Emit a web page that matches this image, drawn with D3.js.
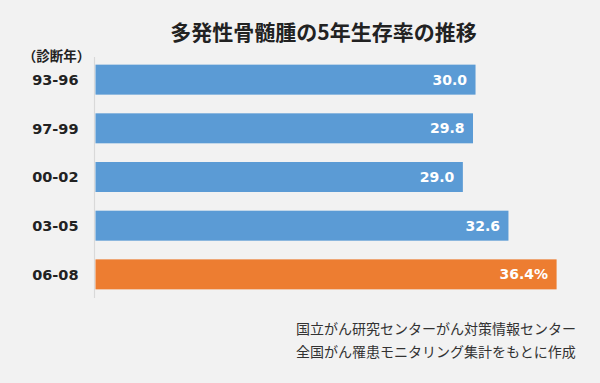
<!DOCTYPE html>
<html><head><meta charset="utf-8">
<script src="https://cdn.jsdelivr.net/npm/d3@7"></script>
<style>
html,body{margin:0;padding:0;background:#f2f2f2;}
svg{display:block;font-family:"Noto Sans CJK JP","Noto Sans",sans-serif;}
</style></head>
<body>
<svg id="c" width="600" height="383"></svg>
<script>
const categories = ["93-96","97-99","00-02","03-05","06-08"];
const values = [30.0, 29.8, 29.0, 32.6, 36.4];
const valueLabels = ["30.0","29.8","29.0","32.6","36.4%"];
const barColors = ["#5b9bd5","#5b9bd5","#5b9bd5","#5b9bd5","#ed7d31"];
const title = "多発性骨髄腫の5年生存率の推移";
const axisTitle = "（診断年）";
const notes = ["国立がん研究センターがん対策情報センター","全国がん罹患モニタリング集計をもとに作成"];

const numFont = "'DejaVu Sans','Noto Sans',sans-serif";
const svg = d3.select("#c");
svg.append("rect").attr("width",600).attr("height",383).attr("fill","#f2f2f2");

const x = d3.scaleLinear().domain([0,40]).range([95.5,602.2]);
const y = d3.scaleBand().domain(categories).range([55.3,298.7]).paddingInner(0.384).paddingOuter(0.192);

svg.append("text").attr("x",323.5).attr("y",39.5).attr("text-anchor","middle")
  .attr("font-size",21).attr("font-weight","bold").attr("fill","#222").text(title);

svg.append("text").attr("x",56.5).attr("y",61).attr("text-anchor","middle")
  .attr("font-size",13.5).attr("font-weight","bold").attr("fill","#222").text(axisTitle);

svg.append("line").attr("x1",x(0)-1).attr("x2",x(0)-1).attr("y1",57).attr("y2",298)
  .attr("stroke","#d9d9d9").attr("stroke-width",1.2);

svg.selectAll("rect.bar").data(values).enter().append("rect").attr("class","bar")
  .attr("x",x(0)).attr("y",(d,i)=>y(categories[i]))
  .attr("width",d=>x(d)-x(0)).attr("height",y.bandwidth())
  .attr("fill",(d,i)=>barColors[i]);

const yAxis = d3.axisLeft(y).tickSize(0).tickPadding(0);
const ga = svg.append("g").attr("transform","translate(78.5,0)").call(yAxis);
ga.select(".domain").remove();
ga.selectAll("text").attr("font-size",14.5).attr("font-weight","bold").attr("fill","#222")
  .attr("font-family",numFont).attr("dy","0.36em");

svg.selectAll("text.val").data(values).enter().append("text").attr("class","val")
  .attr("x",d=>x(d)-8.5).attr("y",(d,i)=>y(categories[i])+y.bandwidth()/2)
  .attr("dy","0.36em").attr("text-anchor","end").attr("font-family",numFont)
  .attr("font-size",14).attr("font-weight","bold").attr("fill","#fff")
  .text((d,i)=>valueLabels[i]);

svg.selectAll("text.note").data(notes).enter().append("text").attr("class","note")
  .attr("x",296).attr("y",(d,i)=>333.5+i*23).attr("font-size",14).attr("fill","#333").text(d=>d);
</script>
</body></html>
